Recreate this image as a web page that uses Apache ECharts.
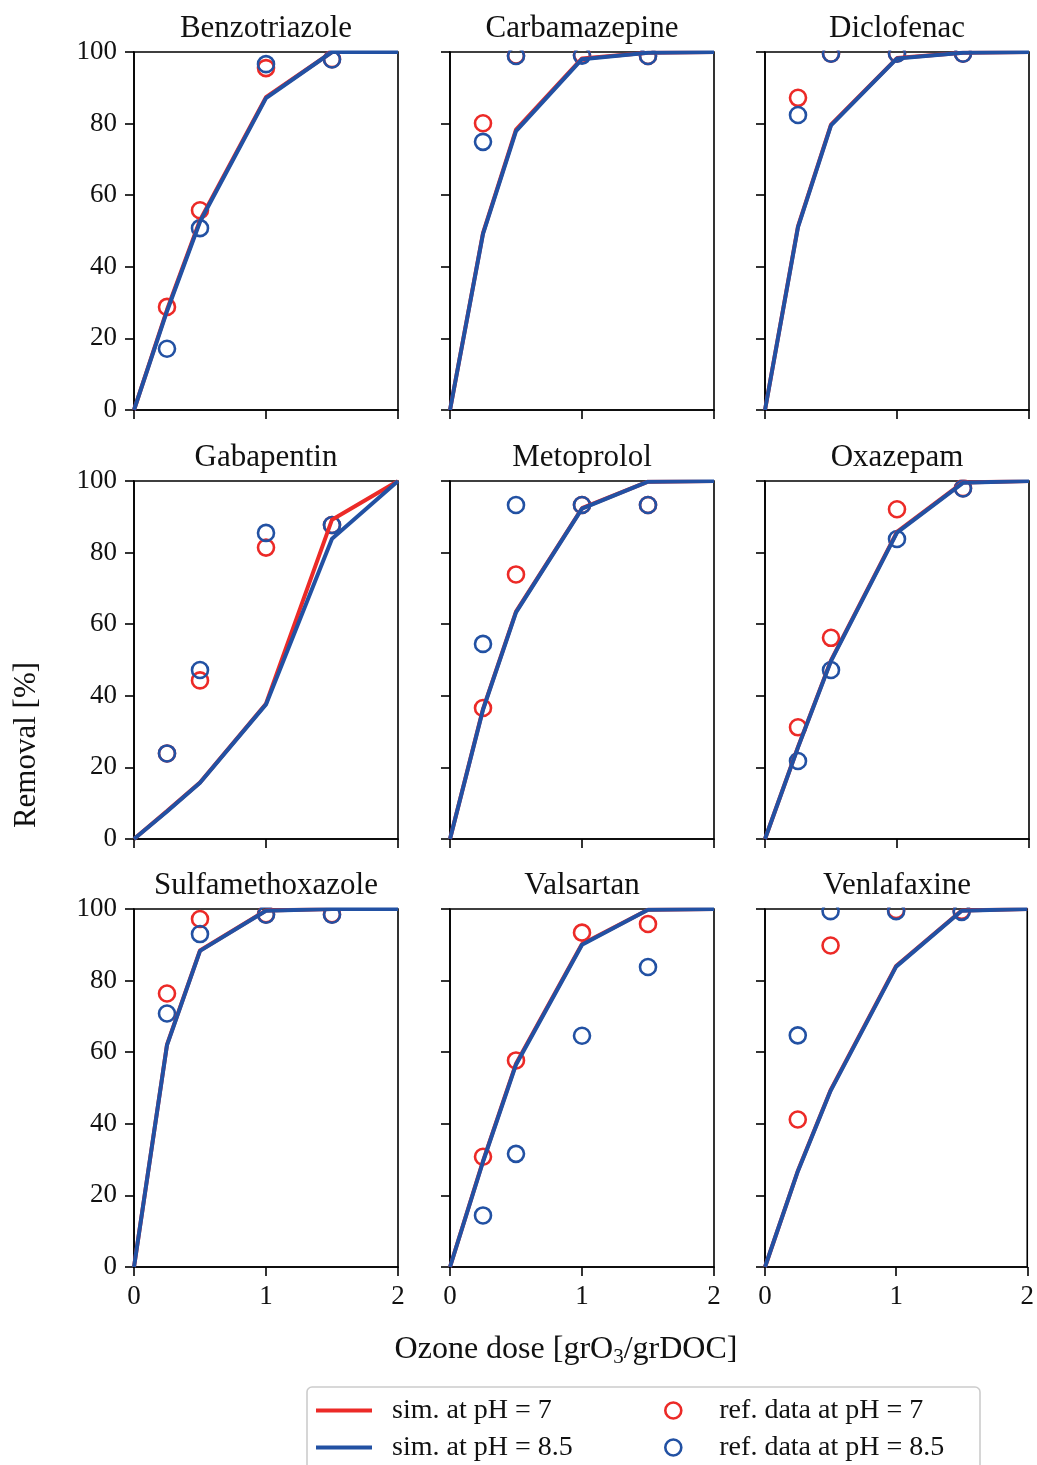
<!DOCTYPE html>
<html>
<head>
<meta charset="utf-8">
<script src="https://cdn.jsdelivr.net/npm/echarts@6/dist/echarts.min.js"></script>
<style>
  html, body { margin: 0; padding: 0; background: #ffffff; }
  #chart { width: 1037px; height: 1465px; }
</style>
</head>
<body>
<div id="chart"></div>
<script>
// Removal of micropollutants versus ozone dose: simulation vs. reference data
const compounds = [
  'Benzotriazole', 'Carbamazepine', 'Diclofenac',
  'Gabapentin', 'Metoprolol', 'Oxazepam',
  'Sulfamethoxazole', 'Valsartan', 'Venlafaxine'
];

// ozone doses [grO3/grDOC]
const simDoses = [0, 0.25, 0.5, 1, 1.5, 2];
const refDoses = [0.25, 0.5, 1, 1.5];

// simulated removal [%] at pH 7 (one row per compound, at simDoses)
const simPh7 = [
  [0, 28.0, 53.0, 87.4, 100, 100],
  [0, 49.4, 78.3, 98.2, 99.8, 100],
  [0, 51.3, 79.7, 98.3, 99.8, 100],
  [0, 7.8, 15.8, 37.8, 89.2, 100],
  [0, 36.3, 63.5, 92.4, 99.8, 100],
  [0, 25.7, 49.9, 85.8, 99.6, 100],
  [0, 62.1, 88.4, 99.6, 100, 100],
  [0, 29.6, 56.8, 90.2, 99.8, 100],
  [0, 26.8, 49.4, 84.1, 99.6, 100]
];

// simulated removal [%] at pH 8.5
const simPh85 = [
  [0, 27.6, 52.6, 87.1, 100, 100],
  [0, 49.2, 77.9, 98.0, 99.8, 100],
  [0, 51.1, 79.5, 98.2, 99.8, 100],
  [0, 7.7, 15.7, 37.6, 83.9, 100],
  [0, 36.1, 63.3, 92.3, 99.8, 100],
  [0, 25.6, 49.7, 85.6, 99.5, 100],
  [0, 62.0, 88.3, 99.5, 100, 100],
  [0, 29.4, 56.5, 90.0, 99.8, 100],
  [0, 26.7, 49.2, 83.9, 99.5, 100]
];

// measured removal [%] at pH 7 (at refDoses)
const refPh7 = [
  [28.8, 55.8, 95.5, 98.0],
  [80.1, 99.0, 99.2, 98.9],
  [87.2, 99.5, 99.6, 99.5],
  [23.9, 44.3, 81.4, 87.7],
  [36.6, 73.9, 93.3, 93.3],
  [31.2, 56.2, 92.1, 98.0],
  [76.4, 97.2, 98.5, 98.5],
  [30.8, 57.7, 93.4, 95.8],
  [41.2, 89.8, 99.7, 99.5]
];

// measured removal [%] at pH 8.5
const refPh85 = [
  [17.1, 50.8, 96.6, 97.9],
  [74.9, 98.9, 99.0, 98.9],
  [82.4, 99.5, 99.5, 99.5],
  [23.9, 47.2, 85.5, 87.7],
  [54.5, 93.3, 93.3, 93.3],
  [21.8, 47.2, 83.8, 97.9],
  [70.8, 93.0, 98.4, 98.4],
  [14.4, 31.6, 64.6, 83.8],
  [64.7, 99.4, 99.4, 99.2]
];

const seriesNames = ['sim. at pH = 7', 'sim. at pH = 8.5', 'ref. data at pH = 7', 'ref. data at pH = 8.5'];

const RED = '#ec2a27';
const BLUE = '#2251a3';
const FONT = '"Liberation Serif", "Times New Roman", serif';
const INK = '#111111';

// panel layout (px)
const colLeft = [134, 450, 765];
const rowTop = [52, 481, 909];
const panelW = 264;
const panelH = 358;

const pairs = (xs, ys) => xs.map((x, k) => [x, ys[k]]);

const grids = [], xAxes = [], yAxes = [], titles = [], series = [], covers = [];

compounds.forEach((name, i) => {
  const row = Math.floor(i / 3), col = i % 3;
  const left = colLeft[col], top = rowTop[row];
  grids.push({
    left: left, top: top, width: panelW, height: panelH,
    show: true, borderColor: '#000', borderWidth: 1.6, backgroundColor: 'transparent'
  });
  xAxes.push({
    gridIndex: i, type: 'value', min: 0, max: 2, interval: 1,
    axisLine: { show: true, onZero: false, lineStyle: { color: '#000', width: 1.6 } },
    axisTick: { show: true, inside: false, length: 9, lineStyle: { color: '#000', width: 1.6 } },
    axisLabel: { show: row === 2, margin: 16, fontSize: 27, fontFamily: FONT, color: INK },
    splitLine: { show: false }
  });
  yAxes.push({
    gridIndex: i, type: 'value', min: 0, max: 100, interval: 20,
    axisLine: { show: true, onZero: false, lineStyle: { color: '#000', width: 1.6 } },
    axisTick: { show: true, inside: false, length: 9, lineStyle: { color: '#000', width: 1.6 } },
    axisLabel: { show: col === 0, margin: 17, fontSize: 27, fontFamily: FONT, color: INK },
    splitLine: { show: false }
  });
  titles.push({
    text: name, left: left + panelW / 2, top: top - 39, textAlign: 'center', padding: 0,
    textStyle: { fontSize: 31, fontWeight: 'normal', fontFamily: FONT, color: INK }
  });

  const scatterBase = {
    type: 'scatter', xAxisIndex: i, yAxisIndex: i, symbol: 'circle', symbolSize: 16,
    z: 2, silent: true, emphasis: { disabled: true }, animation: false
  };
  series.push(Object.assign({}, scatterBase, {
    name: seriesNames[2], data: pairs(refDoses, refPh7[i]),
    itemStyle: { color: 'rgba(0,0,0,0)', borderColor: RED, borderWidth: 2.6, opacity: 1 }
  }));
  series.push(Object.assign({}, scatterBase, {
    name: seriesNames[3], data: pairs(refDoses, refPh85[i]),
    itemStyle: { color: 'rgba(0,0,0,0)', borderColor: BLUE, borderWidth: 2.6, opacity: 1 }
  }));
  const lineBase = {
    type: 'line', xAxisIndex: i, yAxisIndex: i, symbol: 'none', showSymbol: false,
    z: 3, silent: true, emphasis: { disabled: true }, animation: false, clip: true
  };
  series.push(Object.assign({}, lineBase, {
    name: seriesNames[0], data: pairs(simDoses, simPh7[i]),
    color: RED, lineStyle: { color: RED, width: 4 }
  }));
  series.push(Object.assign({}, lineBase, {
    name: seriesNames[1], data: pairs(simDoses, simPh85[i]),
    color: BLUE, lineStyle: { color: BLUE, width: 4 }
  }));

  // markers sitting on the 100 % line are cut off at the panel frame
  covers.push({
    type: 'rect', z: 5, silent: true,
    shape: { x: left - 12, y: top - 14, width: panelW + 24, height: 12.4 },
    style: { fill: '#ffffff' }
  });
});

const option = {
  backgroundColor: '#ffffff',
  animation: false,
  title: titles,
  grid: grids,
  xAxis: xAxes,
  yAxis: yAxes,
  series: series,
  legend: [
    {
      left: 316, top: 1395, orient: 'vertical', padding: 0, itemGap: 6,
      selectedMode: false, icon: 'rect', itemWidth: 56, itemHeight: 4,
      textStyle: { fontSize: 28, lineHeight: 31, fontFamily: FONT, color: INK, padding: [0, 0, 0, 15] },
      data: [
        { name: seriesNames[0], itemStyle: { color: RED } },
        { name: seriesNames[1], itemStyle: { color: BLUE } }
      ]
    },
    {
      left: 664, top: 1395, orient: 'vertical', padding: 0, itemGap: 6,
      selectedMode: false, icon: 'circle', itemWidth: 16, itemHeight: 16,
      textStyle: { fontSize: 28, lineHeight: 31, fontFamily: FONT, color: INK, padding: [0, 0, 0, 33] },
      data: [
        { name: seriesNames[2], itemStyle: { color: 'rgba(0,0,0,0)', borderColor: RED, borderWidth: 2.6, opacity: 1 } },
        { name: seriesNames[3], itemStyle: { color: 'rgba(0,0,0,0)', borderColor: BLUE, borderWidth: 2.6, opacity: 1 } }
      ]
    }
  ],
  graphic: covers.concat([
    {
      type: 'text', x: 27, y: 745, rotation: Math.PI / 2, silent: true,
      style: { text: 'Removal [%]', font: '31px ' + FONT, fill: INK, align: 'center', verticalAlign: 'middle' }
    },
    {
      type: 'text', x: 566, y: 1350, silent: true,
      style: {
        text: 'Ozone dose [grO{s|3}/grDOC]',
        font: '32px ' + FONT, fill: INK, align: 'center', verticalAlign: 'middle',
        rich: { s: { fontSize: 21, fontFamily: FONT, fill: INK, padding: [14, 0, 0, 0] } }
      }
    },
    {
      type: 'rect', z: 1, silent: true,
      shape: { x: 307, y: 1387, width: 673, height: 100, r: 5 },
      style: { fill: '#ffffff', stroke: '#cccccc', lineWidth: 1.6 }
    }
  ])
};

const chart = echarts.init(document.getElementById('chart'), null, { renderer: 'canvas' });
chart.setOption(option);
</script>
</body>
</html>
